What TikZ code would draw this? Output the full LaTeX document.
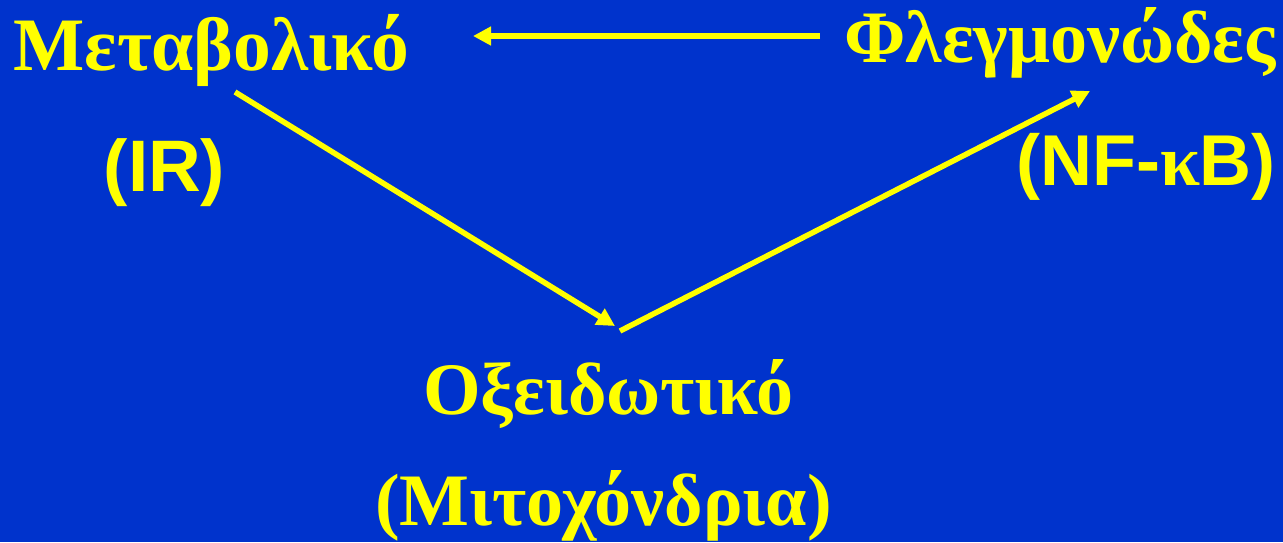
\documentclass[tikz,border=0pt]{standalone}
\usepackage{fontspec}
\setmainfont{Liberation Serif}
\newfontfamily\arialfont{Liberation Sans}
\usetikzlibrary{arrows.meta}
\definecolor{bgblue}{RGB}{0,51,204}
\definecolor{yel}{RGB}{255,255,0}
\begin{document}
\begin{tikzpicture}[x=1pt,y=-1pt,
  greek/.style={text=yel,anchor=base,inner sep=0pt,font=\bfseries},
  latin/.style={text=yel,anchor=base,inner sep=0pt,font=\arialfont\bfseries},
  arr/.style={draw=yel,line width=5.5pt,-{Triangle[length=18pt,width=18pt]}}]
\fill[bgblue] (0,0) rectangle (1283,542);
\useasboundingbox (0,0) rectangle (1283,542);
\node[greek] (meta) at (211.5,70) {\fontsize{75.5}{80}\selectfont Μεταβολικό};
\node[greek] (fleg) at (1060,62) {\fontsize{74}{80}\selectfont Φλεγμονώδες};
\node[greek] (oxei) at (608.5,414) {\fontsize{74}{80}\selectfont Οξειδωτικό};
\node[greek] (mito) at (603.5,525) {\fontsize{74}{80}\selectfont (Μιτοχόνδρια)};
\node[latin] (ir) at (164.5,191) {\fontsize{73}{80}\selectfont (IR)};
\node[latin] (nf) at (1146,185) {\fontsize{72}{80}\selectfont (NF-{\rmfamily κ}B)};
\coordinate (h1) at (820,36);
\coordinate (h2) at (473,36);
\coordinate (d1s) at (235,92);
\coordinate (d1e) at (615,326);
\coordinate (d2s) at (620,331);
\coordinate (d2e) at (1090,91);
\draw[arr] (h1) -- (h2);
\draw[arr] (d1s) -- (d1e);
\draw[arr] (d2s) -- (d2e);
\end{tikzpicture}
\end{document}
